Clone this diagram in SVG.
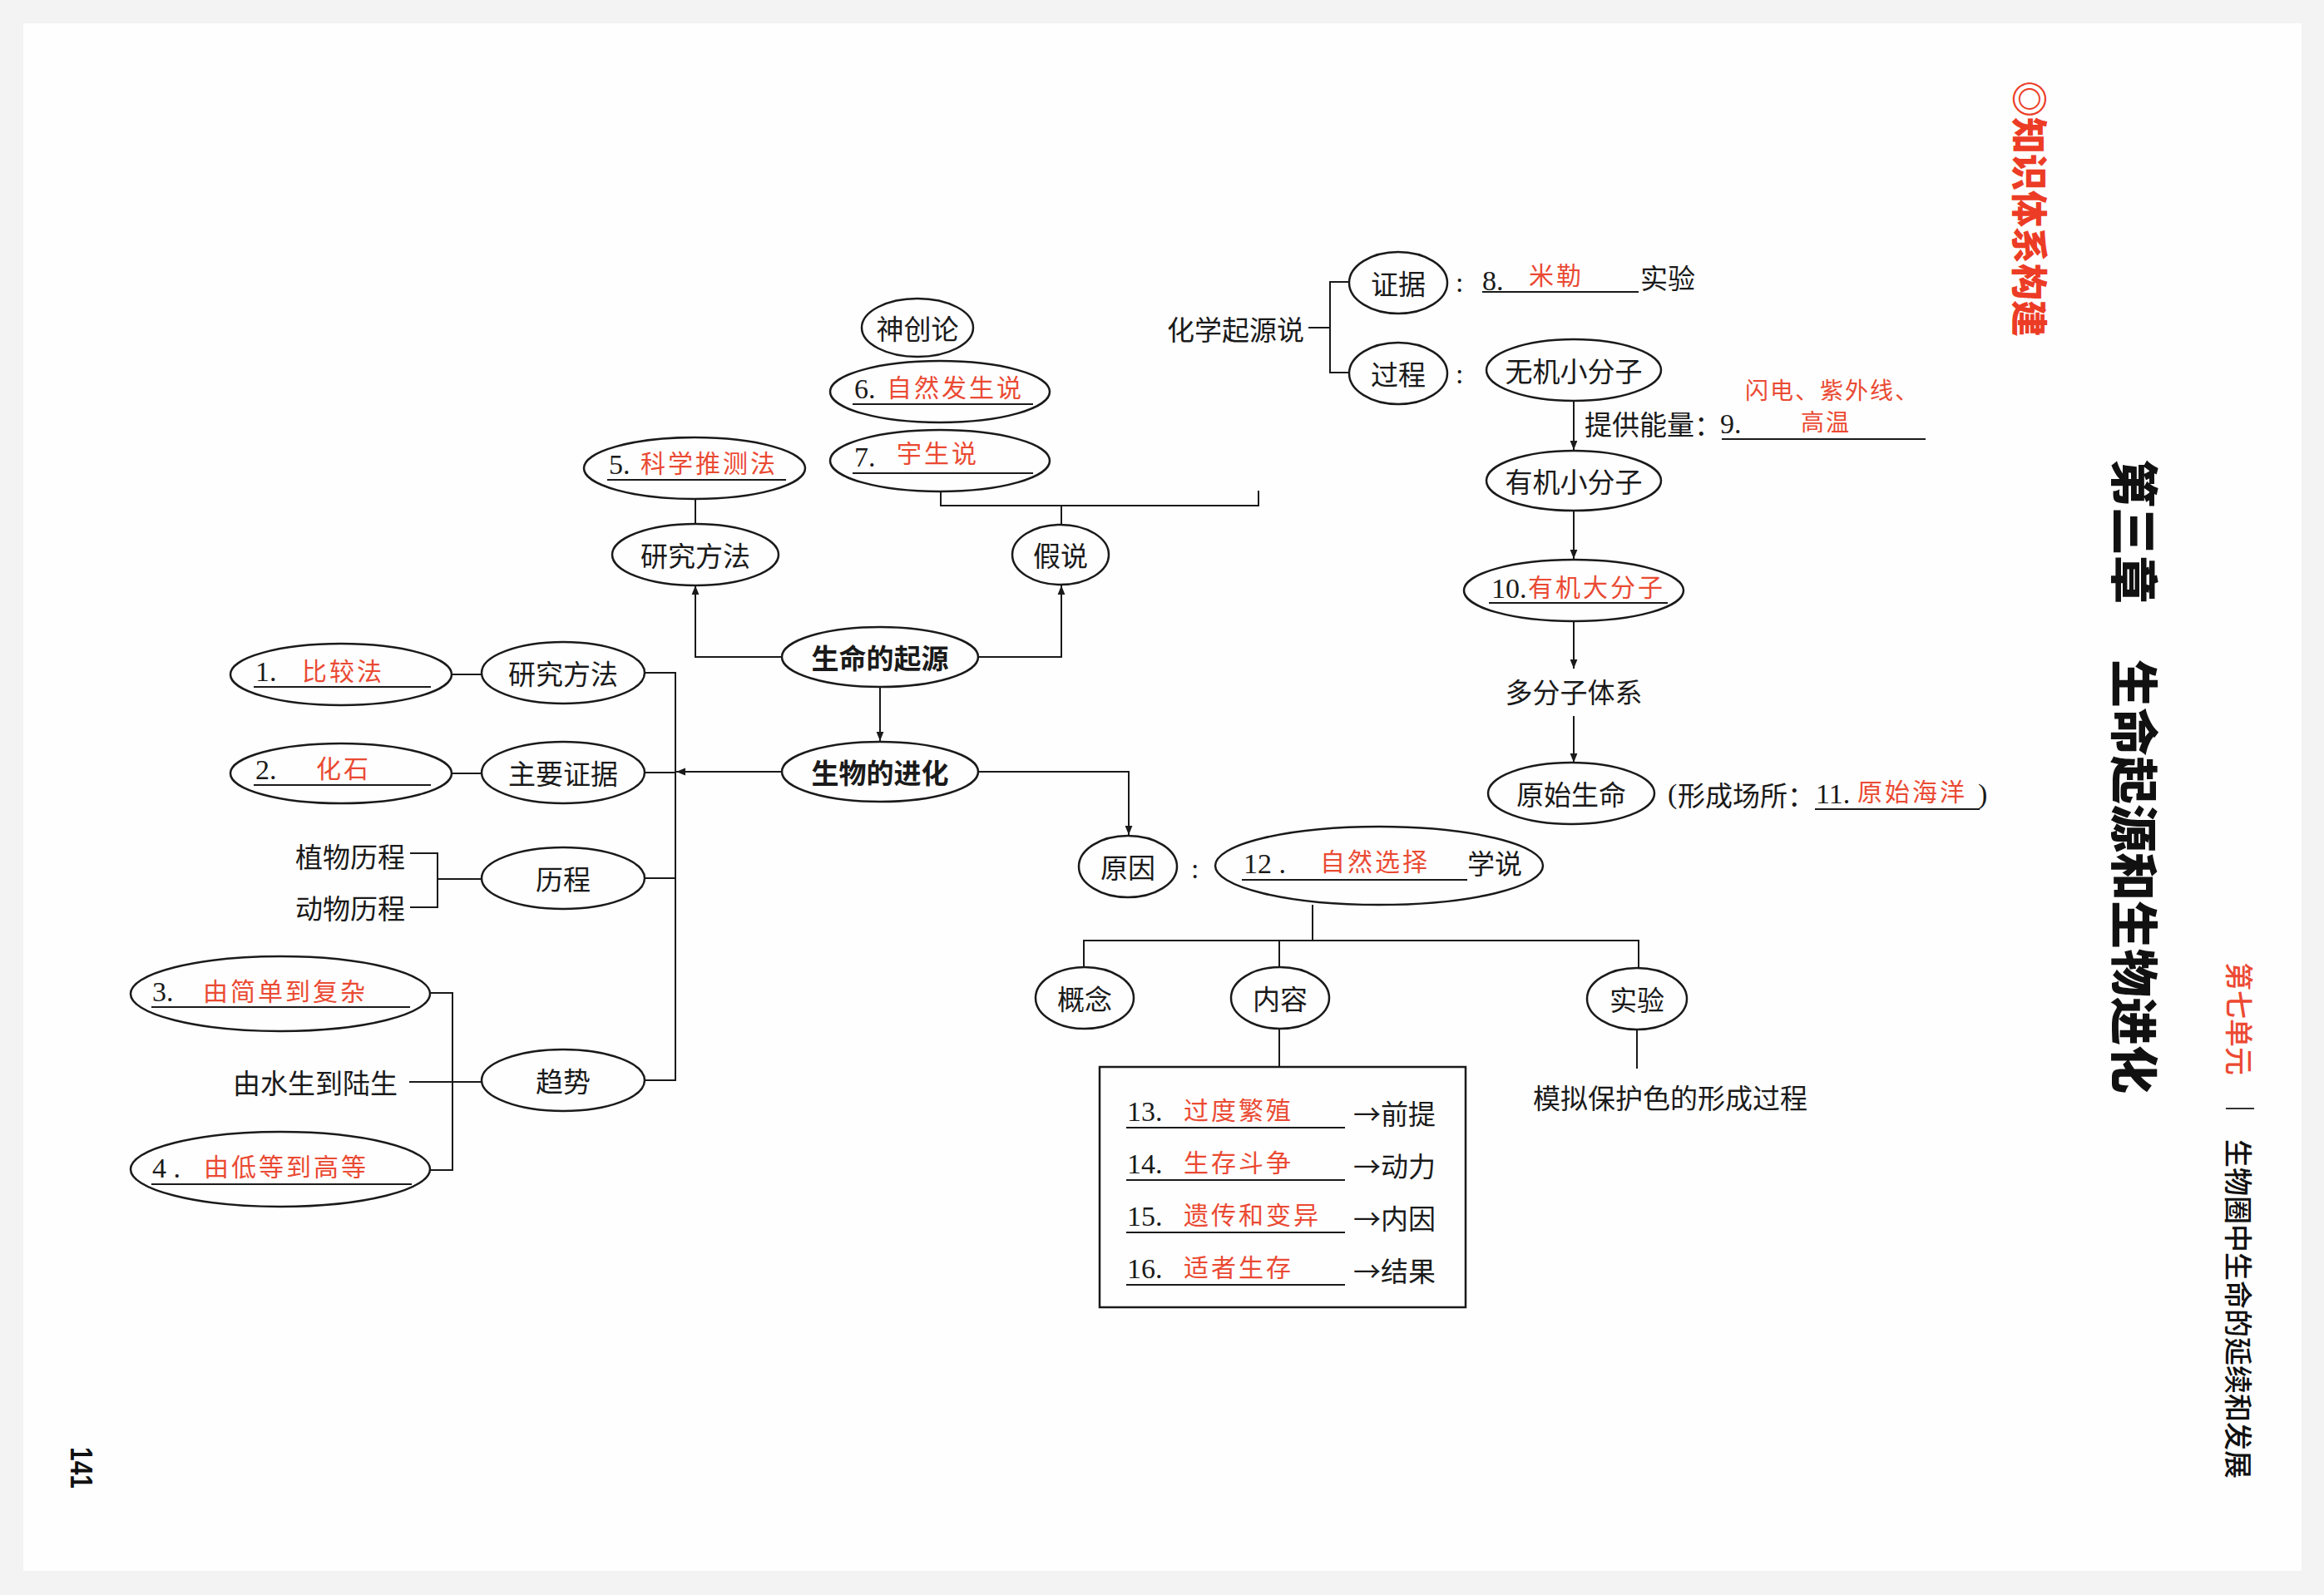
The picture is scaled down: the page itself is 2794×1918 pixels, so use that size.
<svg xmlns="http://www.w3.org/2000/svg" width="2794" height="1918" viewBox="0 0 2794 1918">
<defs>
<style>
.node ellipse{fill:none;stroke:#1a1a1a;stroke-width:2.5}
text{font-family:"Noto Sans CJK SC",sans-serif;font-size:33px;fill:#1a1a1a;dominant-baseline:central}
.c{text-anchor:middle}
.e{text-anchor:end}
.b{font-weight:700}
.num{font-family:"Liberation Serif","Noto Sans CJK SC",serif;font-size:34px;dominant-baseline:alphabetic}
.red{fill:#ea4a33;font-size:30px;letter-spacing:3px}
.ul{stroke:#1a1a1a;stroke-width:2}
.conn path{fill:none;stroke:#1a1a1a;stroke-width:2}
.arr{marker-end:url(#ah)}
.ttl{font-weight:900}
</style>
<marker id="ah" viewBox="0 0 10 10" refX="10" refY="5" markerWidth="11" markerHeight="11" markerUnits="userSpaceOnUse" orient="auto">
<path d="M0,1 L10,5 L0,9 z" fill="#1a1a1a"/>
</marker>
</defs>
<rect x="0" y="0" width="2794" height="1918" fill="#f3f3f3"/>
<rect x="28" y="28" width="2739" height="1861" fill="#fefefe"/>

<g id="connectors" class="conn">
<path class="arr" d="M940,790 H836 V704"/>
<path class="arr" d="M1176,790 H1276 V704"/>
<path class="arr" d="M1058,826 V891"/>
<path class="arr" d="M940,928 H813"/>
<path d="M775,809 H812 V1299 H775 M775,929 H812 M775,1056 H812"/>
<path class="arr" d="M1176,928 H1357 V1004"/>
<path d="M836,600 V630"/>
<path d="M1276,630 V608 M1131,591 V608 H1513 V590"/>
<path d="M543,811 H579"/>
<path d="M543,930 H579"/>
<path d="M493,1026 H526 V1091 H493 M526,1057 H579"/>
<path d="M517,1194 H544 V1407 H517 M492,1301 H579"/>
<path d="M1573,394 H1599 M1622,339 H1599 V448 H1622"/>
<path class="arr" d="M1892,482 V541"/>
<path class="arr" d="M1892,614 V672"/>
<path class="arr" d="M1892,747 V804"/>
<path class="arr" d="M1892,861 V917"/>
<path d="M1578,1088 V1131 M1303,1163 V1131 H1970 V1164 M1538,1131 V1163"/>
<path d="M1538,1237 V1283"/>
<path d="M1968,1238 V1285"/>
</g>

<g id="shenchuanglun" class="node"><ellipse cx="1103" cy="394" rx="67" ry="35"/><text x="1103" y="394" class="c">神创论</text></g>
<g id="a6" class="node"><ellipse cx="1130" cy="471" rx="132" ry="37"/>
<text x="1027" y="479" class="num">6.</text><text x="1066" y="464" class="red">自然发生说</text>
<line x1="1025" y1="486" x2="1242" y2="486" class="ul"/></g>
<g id="a7" class="node"><ellipse cx="1130" cy="554" rx="132" ry="37"/>
<text x="1027" y="561" class="num">7.</text><text x="1078" y="543" class="red">宇生说</text>
<line x1="1025" y1="569" x2="1242" y2="569" class="ul"/></g>
<g id="a5" class="node"><ellipse cx="835" cy="563" rx="133" ry="37"/>
<text x="732" y="570" class="num">5.</text><text x="770" y="555" class="red">科学推测法</text>
<line x1="730" y1="577" x2="945" y2="577" class="ul"/></g>
<g id="yanjiufangfa1" class="node"><ellipse cx="836" cy="667" rx="100" ry="37"/><text x="836" y="667" class="c">研究方法</text></g>
<g id="jiashuo" class="node"><ellipse cx="1275" cy="667" rx="58" ry="36"/><text x="1275" y="667" class="c">假说</text></g>
<g id="qiyuan" class="node"><ellipse cx="1058" cy="790" rx="118" ry="36"/><text x="1058" y="790" class="c b">生命的起源</text></g>
<g id="jinhua" class="node"><ellipse cx="1058" cy="928" rx="118" ry="36"/><text x="1058" y="928" class="c b">生物的进化</text></g>

<g id="a1" class="node"><ellipse cx="410" cy="811" rx="133" ry="37"/>
<text x="307" y="819" class="num">1.</text><text x="363" y="805" class="red">比较法</text>
<line x1="305" y1="826" x2="518" y2="826" class="ul"/></g>
<g id="yanjiufangfa2" class="node"><ellipse cx="677" cy="809" rx="98" ry="37"/><text x="677" y="809" class="c">研究方法</text></g>
<g id="a2" class="node"><ellipse cx="410" cy="930" rx="133" ry="36"/>
<text x="307" y="937" class="num">2.</text><text x="380" y="922" class="red">化石</text>
<line x1="305" y1="944" x2="518" y2="944" class="ul"/></g>
<g id="zhuyaozhengju" class="node"><ellipse cx="677" cy="929" rx="98" ry="37"/><text x="677" y="929" class="c">主要证据</text></g>
<g id="licheng" class="node"><ellipse cx="677" cy="1056" rx="98" ry="37"/><text x="677" y="1056" class="c">历程</text></g>
<g id="zhiwulicheng"><text x="487" y="1029" class="e">植物历程</text></g>
<g id="dongwulicheng"><text x="487" y="1091" class="e">动物历程</text></g>
<g id="a3" class="node"><ellipse cx="337" cy="1195" rx="180" ry="45"/>
<text x="183" y="1204" class="num">3.</text><text x="244" y="1190" class="red">由简单到复杂</text>
<line x1="182" y1="1211" x2="493" y2="1211" class="ul"/></g>
<g id="shuishengluheng"><text x="478" y="1301" class="e">由水生到陆生</text></g>
<g id="a4" class="node"><ellipse cx="337" cy="1406" rx="180" ry="45"/>
<text x="183" y="1416" class="num">4 .</text><text x="245" y="1401" class="red">由低等到高等</text>
<line x1="182" y1="1424" x2="495" y2="1424" class="ul"/></g>
<g id="qushi" class="node"><ellipse cx="677" cy="1299" rx="98" ry="37"/><text x="677" y="1299" class="c">趋势</text></g>

<g id="huaxueqiyuan"><text x="1568" y="395" class="e">化学起源说</text></g>
<g id="zhengju" class="node"><ellipse cx="1681" cy="340" rx="59" ry="37"/><text x="1681" y="340" class="c">证据</text></g>
<g id="a8">
<text x="1750" y="351" class="num">:</text>
<text x="1782" y="349" class="num">8.</text><text x="1838" y="329" class="red">米勒</text>
<line x1="1782" y1="351" x2="1970" y2="351" class="ul"/>
<text x="1972" y="333">实验</text></g>
<g id="guocheng" class="node"><ellipse cx="1681" cy="449" rx="59" ry="37"/><text x="1681" y="449" class="c">过程</text></g>
<g id="colon2"><text x="1750" y="461" class="num">:</text></g>
<g id="wuji" class="node"><ellipse cx="1892" cy="445" rx="105" ry="37"/><text x="1892" y="445" class="c">无机小分子</text></g>
<g id="a9">
<text x="1905" y="509">提供能量：</text><text x="2068" y="521" class="num">9.</text>
<line x1="2070" y1="528" x2="2315" y2="528" class="ul"/>
<text x="2098" y="468" class="red" style="font-size:28px;letter-spacing:2px">闪电、紫外线、</text>
<text x="2165" y="506" class="red" style="font-size:28px;letter-spacing:2px">高温</text></g>
<g id="youji" class="node"><ellipse cx="1892" cy="578" rx="105" ry="36"/><text x="1892" y="578" class="c">有机小分子</text></g>
<g id="a10" class="node"><ellipse cx="1892" cy="710" rx="132" ry="37"/>
<text x="1793" y="719" class="num">10.</text><text x="1837" y="704" class="red">有机大分子</text>
<line x1="1790" y1="725" x2="2005" y2="725" class="ul"/></g>
<g id="duofenzi"><text x="1892" y="831" class="c">多分子体系</text></g>
<g id="yuanshishengming" class="node"><ellipse cx="1889" cy="954" rx="100" ry="37"/><text x="1889" y="954" class="c">原始生命</text></g>
<g id="a11">
<text x="2005" y="966" class="num">(</text><text x="2017" y="955">形成场所：</text>
<text x="2183" y="966" class="num">11.</text><text x="2233" y="950" class="red">原始海洋</text>
<text x="2378" y="966" class="num">)</text>
<line x1="2182" y1="973" x2="2380" y2="973" class="ul"/></g>

<g id="yuanyin" class="node"><ellipse cx="1356" cy="1042" rx="59" ry="37"/><text x="1356" y="1042" class="c">原因</text></g>
<g id="colon3"><text x="1432" y="1056" class="num">:</text></g>
<g id="a12" class="node"><ellipse cx="1658" cy="1041" rx="197" ry="47"/>
<text x="1495" y="1050" class="num">12 .</text><text x="1587" y="1034" class="red">自然选择</text>
<text x="1764" y="1037">学说</text>
<line x1="1493" y1="1058" x2="1764" y2="1058" class="ul"/></g>
<g id="gainian" class="node"><ellipse cx="1304" cy="1200" rx="59" ry="37"/><text x="1304" y="1200" class="c">概念</text></g>
<g id="neirong" class="node"><ellipse cx="1539" cy="1200" rx="59" ry="37"/><text x="1539" y="1200" class="c">内容</text></g>
<g id="shiyan" class="node"><ellipse cx="1968" cy="1201" rx="60" ry="37"/><text x="1968" y="1201" class="c">实验</text></g>
<g id="moni"><text x="2008" y="1319" class="c">模拟保护色的形成过程</text></g>

<g id="content-box">
<rect x="1322" y="1283" width="440" height="289" fill="none" stroke="#1a1a1a" stroke-width="2.5"/>
<text x="1355" y="1348" class="num">13.</text><text x="1423" y="1333" class="red">过度繁殖</text><line x1="1354" y1="1356" x2="1617" y2="1356" class="ul"/><text x="1627" y="1338">→前提</text>
<text x="1355" y="1411" class="num">14.</text><text x="1423" y="1396" class="red">生存斗争</text><line x1="1354" y1="1419" x2="1617" y2="1419" class="ul"/><text x="1627" y="1401">→动力</text>
<text x="1355" y="1474" class="num">15.</text><text x="1423" y="1459" class="red">遗传和变异</text><line x1="1354" y1="1482" x2="1617" y2="1482" class="ul"/><text x="1627" y="1464">→内因</text>
<text x="1355" y="1537" class="num">16.</text><text x="1423" y="1522" class="red">适者生存</text><line x1="1354" y1="1545" x2="1617" y2="1545" class="ul"/><text x="1627" y="1527">→结果</text>
</g>

<g id="header">
<text transform="translate(2442,97) rotate(90)" style="font-size:44px;font-weight:900;fill:#ec3c25">◎知识体系构建</text>
<text transform="translate(2569,552) rotate(90)" class="ttl" style="font-size:58px;fill:#111">第三章</text>
<text transform="translate(2569,793) rotate(90)" class="ttl" style="font-size:58px;fill:#111">生命起源和生物进化</text>
<text transform="translate(2693,1157) rotate(90)" style="font-size:34px;font-weight:500;fill:#ec4a33">第七单元</text>
<line x1="2676" y1="1333" x2="2710" y2="1333" stroke="#333" stroke-width="2"/>
<text transform="translate(2692,1370) rotate(90)" style="font-size:34px;font-weight:500;fill:#111">生物圈中生命的延续和发展</text>
<text transform="translate(97,1740) rotate(90)" textLength="50" lengthAdjust="spacingAndGlyphs" style="font-family:'Liberation Sans',sans-serif;font-size:36px;font-weight:700;fill:#111">141</text>
</g>
</svg>
